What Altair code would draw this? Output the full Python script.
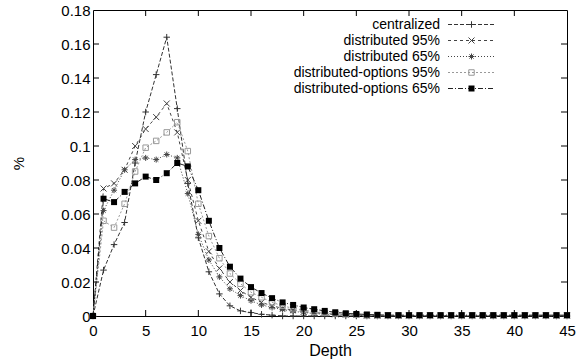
import altair as alt
import pandas as pd

depth = list(range(46))

series_names = [
    "centralized",
    "distributed 95%",
    "distributed 65%",
    "distributed-options 95%",
    "distributed-options 65%",
]

centralized = [0, 0.027, 0.042, 0.055, 0.090, 0.120, 0.142, 0.164, 0.122, 0.078,
               0.046, 0.026, 0.013, 0.006, 0.003, 0.002, 0.001, 0.0005] + [0] * 28
distributed_95 = [0, 0.075, 0.078, 0.086, 0.100, 0.110, 0.117, 0.125, 0.108, 0.080,
                  0.056, 0.038, 0.028, 0.020, 0.015, 0.011, 0.008, 0.006, 0.0045, 0.0035,
                  0.0025, 0.002, 0.0015, 0.001, 0.0008, 0.0006] + [0.0002] * 20
distributed_65 = [0, 0.062, 0.074, 0.086, 0.092, 0.093, 0.092, 0.095, 0.093, 0.072,
                  0.048, 0.033, 0.023, 0.016, 0.012, 0.009, 0.0065, 0.005, 0.0038, 0.0028,
                  0.002, 0.0015, 0.001, 0.0008, 0.0006, 0.0004] + [0.0002] * 20
dopt_95 = [0, 0.056, 0.052, 0.066, 0.085, 0.099, 0.103, 0.108, 0.114, 0.097,
           0.066, 0.047, 0.034, 0.025, 0.019, 0.014, 0.011, 0.008, 0.006, 0.0045,
           0.0035, 0.0025, 0.002, 0.0015, 0.001, 0.0008] + [0.0003] * 20
dopt_65 = [0, 0.069, 0.067, 0.073, 0.078, 0.082, 0.080, 0.084, 0.090, 0.088,
           0.074, 0.056, 0.040, 0.029, 0.022, 0.017, 0.0135, 0.0105, 0.008, 0.0065,
           0.005, 0.004, 0.003, 0.0022, 0.0016, 0.0012, 0.0009, 0.0007] + [0.0005] * 18

series_values = [centralized, distributed_95, distributed_65, dopt_95, dopt_65]

x_ticks = [0, 5, 10, 15, 20, 25, 30, 35, 40, 45]
y_ticks = [0, 0.02, 0.04, 0.06, 0.08, 0.1, 0.12, 0.14, 0.16, 0.18]

FONT = "Liberation Sans"
W, H = 474, 306

rows = []
for name, vals in zip(series_names, series_values):
    for d, v in zip(depth, vals):
        rows.append({"Depth": d, "pct": v, "series": name})
df = pd.DataFrame(rows)

xs = alt.Scale(domain=[0, 45], nice=False, zero=False)
ys = alt.Scale(domain=[0, 0.18], nice=False)

xaxis = alt.Axis(values=x_ticks, ticks=False, domain=False, grid=False,
                 labelFont=FONT, labelFontSize=15, labelColor="black",
                 labelPadding=7, title="Depth", titleFont=FONT, titleFontSize=16,
                 titleFontWeight="normal", titleColor="black", titlePadding=4,
                 labelFlush=False)
yaxis = alt.Axis(values=y_ticks, ticks=False, domain=False, grid=False, format="~g",
                 labelFont=FONT, labelFontSize=15, labelColor="black",
                 labelPadding=3, title="%", titleFont=FONT, titleFontSize=15,
                 titleFontWeight="normal", titleColor="black", titlePadding=34)


def X(field):
    return alt.X(field, type="quantitative", scale=xs, axis=xaxis)


def Y(field):
    return alt.Y(field, type="quantitative", scale=ys, axis=yaxis)


PLUS = "M-1,0L1,0M0,-1L0,1"
CROSS = "M-1,-1L1,1M-1,1L1,-1"
STAR = "M-1,0L1,0M0,-1L0,1M-0.7,-0.7L0.7,0.7M-0.7,0.7L0.7,-0.7"

styles = [
    dict(dash=[4, 2], color="#333333", shape=PLUS, filled=False, size=42),
    dict(dash=[3, 3], color="#444444", shape=CROSS, filled=False, size=36),
    dict(dash=[1, 2], color="#444444", shape=STAR, filled=False, size=36),
    dict(dash=[2, 2], color="#999999", shape="square", filled=False, size=30),
    dict(dash=[5, 2, 1, 2], color="#222222", shape="square", filled=True, size=36),
]

layers = []
for name, st in zip(series_names, styles):
    base = alt.Chart(df).transform_filter(alt.datum.series == name)
    layers.append(base.mark_line(color=st["color"], strokeWidth=1, strokeDash=st["dash"])
                  .encode(x=X("Depth"), y=Y("pct")))
    layers.append(base.mark_point(shape=st["shape"], filled=st["filled"],
                                  color=st["color"] if not st["filled"] else "black",
                                  size=st["size"], strokeWidth=1, opacity=1)
                  .encode(x=X("Depth"), y=Y("pct")))

xt = pd.DataFrame({"t": x_ticks[1:-1]})
yt = pd.DataFrame({"t": y_ticks[1:-1]})
layers.append(alt.Chart(xt).mark_rule(color="black", strokeWidth=1)
              .encode(x=X("t"), y=alt.value(H), y2=alt.value(H - 6)))
layers.append(alt.Chart(xt).mark_rule(color="black", strokeWidth=1)
              .encode(x=X("t"), y=alt.value(0), y2=alt.value(6)))
layers.append(alt.Chart(yt).mark_rule(color="black", strokeWidth=1)
              .encode(y=Y("t"), x=alt.value(0), x2=alt.value(6)))
layers.append(alt.Chart(yt).mark_rule(color="black", strokeWidth=1)
              .encode(y=Y("t"), x=alt.value(W), x2=alt.value(W - 6)))

# legend (gnuplot style: label left, sample right)
for i, (name, st) in enumerate(zip(series_names, styles)):
    yy = 14.5 + 16 * i
    ldf = pd.DataFrame({"label": [name]})
    layers.append(alt.Chart(ldf).mark_text(align="right", baseline="middle", font=FONT,
                                           fontSize=14, color="black")
                  .encode(text="label:N", x=alt.value(347), y=alt.value(yy)))
    layers.append(alt.Chart(ldf).mark_rule(color=st["color"], strokeWidth=1, strokeDash=st["dash"])
                  .encode(x=alt.value(355), x2=alt.value(402), y=alt.value(yy)))
    layers.append(alt.Chart(ldf).mark_point(shape=st["shape"], filled=st["filled"],
                                            color=st["color"] if not st["filled"] else "black",
                                            size=st["size"], strokeWidth=1, opacity=1)
                  .encode(x=alt.value(378.5), y=alt.value(yy)))

chart = alt.layer(*layers).properties(
    width=W, height=H,
    padding={"left": 93, "top": 10, "right": 11, "bottom": 48},
    autosize=alt.AutoSizeParams(type="none"),
    background="white",
).configure_view(stroke="black", strokeWidth=1)

chart.save("out.html", embed_options={"renderer": "svg", "actions": False})
